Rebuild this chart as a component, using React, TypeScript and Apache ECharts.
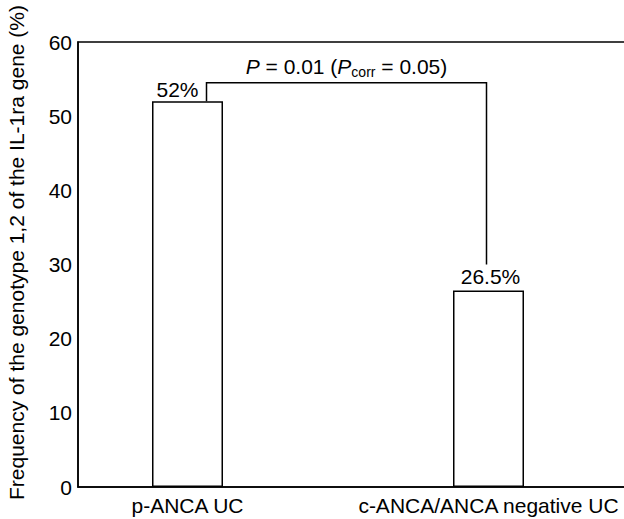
import React, { useEffect, useRef } from "react";
import * as echarts from "echarts";

const categories = ["p-ANCA UC", "c-ANCA/ANCA negative UC"];
const values = [52, 26.5];
const valueLabels = ["52%", "26.5%"];
const yMin = 0;
const yMax = 60;
const yInterval = 10;
const yAxisName = "Frequency of the genotype 1,2 of the IL-1ra gene (%)";
const bracketTop = 54.5;
const bracketRightBottom = 30;
const pLabel = "{i|P} = 0.01 ({i|P}{sub|corr} = 0.05)";

const FONT = "'Liberation Sans', Arial, Helvetica, sans-serif";
const FS = 21;

export default function App() {
  const ref = useRef<HTMLDivElement>(null);
  useEffect(() => {
    if (!ref.current) return;
    const chart = echarts.init(ref.current, undefined, { renderer: "svg" });
    const black = "#000";
    chart.setOption({
      animation: false,
      backgroundColor: "#fff",
      textStyle: { fontFamily: FONT },
      grid: [
        { left: 78, top: 42, right: -30, bottom: 32, show: true, borderColor: black, borderWidth: 1.5, backgroundColor: "transparent", outerBoundsMode: "none", containLabel: false },
        { left: 37, top: 42, right: -15, bottom: 32, outerBoundsMode: "none", containLabel: false },
      ],
      xAxis: [
        {
          gridIndex: 0, type: "value", min: 0, max: 1,
          axisLine: { show: true, lineStyle: { color: black, width: 1.5 } },
          axisTick: { show: false }, axisLabel: { show: false }, splitLine: { show: false },
        },
        {
          gridIndex: 1, type: "category", data: categories,
          axisLine: { show: false }, axisTick: { show: false },
          axisLabel: { interval: 0, fontSize: FS, color: black, margin: 8, fontFamily: FONT },
        },
      ],
      yAxis: [
        {
          gridIndex: 0, type: "value", min: yMin, max: yMax, interval: yInterval,
          axisLine: { show: true, lineStyle: { color: black, width: 1.5 } },
          axisTick: { show: false }, splitLine: { show: false },
          axisLabel: { fontSize: FS, color: black, margin: 6, fontFamily: FONT },
          name: yAxisName, nameLocation: "middle", nameGap: 51, nameRotate: 90,
          nameTextStyle: { fontSize: FS, color: black, fontFamily: FONT, padding: [0, 0, 0, 24] },
        },
        { gridIndex: 1, type: "value", min: yMin, max: yMax, interval: yInterval, show: false },
      ],
      series: [
        {
          type: "bar", xAxisIndex: 1, yAxisIndex: 1, barWidth: 71,
          itemStyle: { color: "#fff", borderColor: black, borderWidth: 1.5 },
          data: values.map((v, i) => ({
            value: v,
            label: { offset: i === 0 ? [-10, 2] : [2, 0] },
          })),
          label: {
            show: true, position: "top", distance: 3, fontSize: FS, color: black, fontFamily: FONT,
            formatter: (p: any) => valueLabels[p.dataIndex],
          },
        },
        {
          type: "custom", xAxisIndex: 1, yAxisIndex: 1, clip: false,
          data: [[0, 0]],
          renderItem: (params: any, api: any) => {
            const a = api.coord([0, values[0]]);
            const b = api.coord([0, bracketTop]);
            const c = api.coord([1, bracketTop]);
            const d = api.coord([1, bracketRightBottom]);
            const lx = a[0] + 19;
            const rx = c[0] - 2;
            return {
              type: "group",
              children: [
                {
                  type: "polyline",
                  shape: { points: [[lx, a[1]], [lx, b[1]], [rx, b[1]], [rx, d[1]]] },
                  style: { stroke: black, lineWidth: 1.5, fill: null },
                },
                {
                  type: "text",
                  x: (lx + rx) / 2, y: b[1] - 16,
                  style: {
                    text: pLabel, fontSize: FS, fontFamily: FONT, fill: black,
                    align: "center", verticalAlign: "middle",
                    rich: {
                      i: { fontStyle: "italic", fontSize: FS, fontFamily: FONT, fill: black, lineHeight: 24 },
                      sub: { fontSize: 14, fontFamily: FONT, fill: black, verticalAlign: "bottom", lineHeight: 12 },
                    },
                  },
                },
              ],
            };
          },
        },
      ],
    });
    return () => chart.dispose();
  }, []);
  return <div ref={ref} style={{ position: "fixed", left: 0, top: 0, width: 624, height: 519 }} />;
}
